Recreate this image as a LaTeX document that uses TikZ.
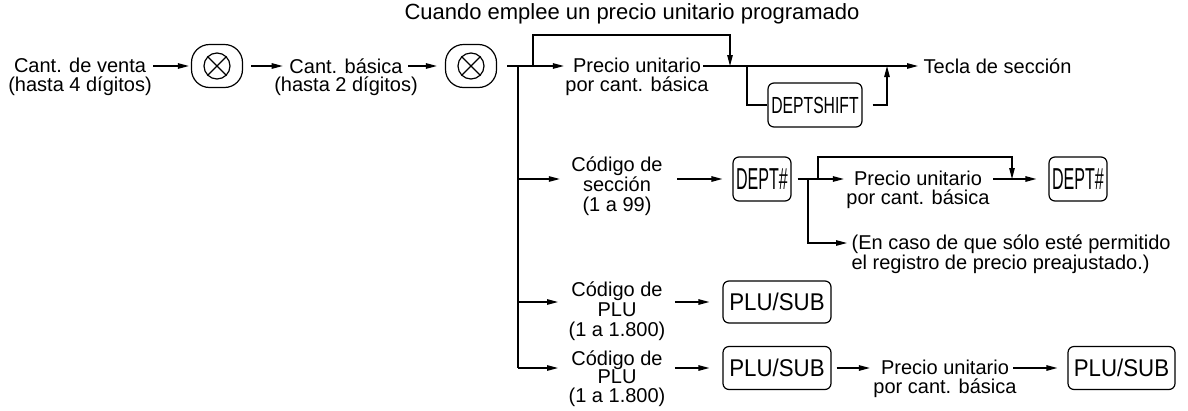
\documentclass[tikz,border=0pt]{standalone}
\usepackage{fontspec}
\setmainfont{Liberation Sans}
\usepackage{graphicx}
\usetikzlibrary{arrows.meta,calc}
\newcommand\keytext[3]{{\fontsize{#1}{#1}\selectfont\scalebox{#2}[1]{#3}}}
\begin{document}
\begin{tikzpicture}[x=1pt,y=-1pt, line width=1.2pt,
  txt/.style={inner sep=0pt, align=center, font=\fontsize{20}{18.5}\selectfont},
  txtw/.style={inner sep=0pt, align=center, font=\fontsize{20}{20}\selectfont},
  keybox/.style={draw, rounded corners=6pt, inner sep=0pt},
  xbox/.style={draw, rounded corners=18pt, minimum width=51pt, minimum height=43pt, inner sep=0pt},
  xcirc/.style={draw, circle, minimum size=26pt, inner sep=0pt},
  arr/.style={-{Triangle[length=11pt,width=5.5pt]}}]
\useasboundingbox (0,0) rectangle (1188,410);

% row 1
\node[txt] (t1) at (80,77) {Cant. de venta\\(hasta 4 dígitos)};
\node[xbox] (x1) at (217,66) {};
\node[xcirc] (c1) at (x1.center) {};
\draw (c1.north west) -- (c1.south east) (c1.north east) -- (c1.south west);
\node[txt] (t2) at (346,77) {Cant. básica\\(hasta 2 dígitos)};
\node[xbox] (x2) at (471,66) {};
\node[xcirc] (c2) at (x2.center) {};
\draw (c2.north west) -- (c2.south east) (c2.north east) -- (c2.south west);
\node[txt, font=\fontsize{22}{22}\selectfont] (lab) at (632,14) {Cuando emplee un precio unitario programado};
\node[txt] (p1) at (637,77) {Precio unitario\\por cant. básica};
\node[txt, anchor=west] (tec) at (923,66) {Tecla de sección};
\node[keybox, minimum width=94pt, minimum height=44pt] (ds) at (815,105) {\keytext{23.3}{0.674}{DEPTSHIFT}};

% row 2
\node[txtw] (c2t) at (617,186.5) {Código de\\sección\\(1 a 99)};
\node[keybox, minimum width=58pt, minimum height=44pt] (d1) at (762,179) {\keytext{30.3}{0.53}{DEPT\#}};
\node[txt] (p2) at (918,190) {Precio unitario\\por cant. básica};
\node[keybox, minimum width=58pt, minimum height=44pt] (d2) at (1078,179) {\keytext{30.3}{0.53}{DEPT\#}};
\node[txt, align=left, anchor=west] (note) at (851,254) {(En caso de que sólo esté permitido\\el registro de precio preajustado.)};

% row 3
\node[txtw] (c3) at (617,311.5) {Código de\\PLU\\(1 a 1.800)};
\node[keybox, minimum width=108pt, minimum height=42pt] (k1) at (777,302) {\keytext{24.2}{0.92}{PLU/SUB}};

% row 4
\node[txt] (c4) at (617,378.5) {Código de\\PLU\\(1 a 1.800)};
\node[keybox, minimum width=108pt, minimum height=43pt] (k2) at (777,368) {\keytext{24.2}{0.92}{PLU/SUB}};
\node[txt] (p3) at (945,379) {Precio unitario\\por cant. básica};
\node[keybox, minimum width=107pt, minimum height=43pt] (k3) at (1121.5,368) {\keytext{24.2}{0.92}{PLU/SUB}};

% junctions
\coordinate (j0) at (518,66);
\coordinate (jb) at (533,66);
\coordinate (jc) at (730,66);
\coordinate (jd) at (747,66);
\coordinate (ju) at (887,66);
\coordinate (j3) at (808,179);
\coordinate (j4) at (818,179);
\coordinate (j5) at (1012,179);
\coordinate (jn) at (808,243);

% row 1 connectors
\draw[arr] ($(t1.east|-x1.west)+(1,0)$) -- ($(x1.west)+(-2,0)$);
\draw[arr] ($(x1.east)+(8,0)$) -- ($(t2.west|-x1.east)+(9,0)$);
\draw[arr] ($(t2.east|-x2.west)+(-10,0)$) -- ($(x2.west)+(-8,0)$);
\draw ($(x2.east)+(10,0)$) -- (j0);
\draw[arr] (j0) -- ($(p1.west|-j0)+(-1,0)$);
\draw[arr] (jb) -- ++(0,-31) -| (jc);
\draw[arr] ($(p1.east|-j0)+(-6,0)$) -- ($(tec.west)+(-5,0)$);
\draw (jd) |- (ds.west);
\draw[arr] ($(ds.east)+(10,0)$) -| (ju);

% trunk
\draw (j0) -- (j0|-k2);

% row 2 connectors
\draw[arr] (j0|-d1) -- ($(c2t.west|-d1)+(-11,0)$);
\draw[arr] ($(c2t.east|-d1)+(14,0)$) -- ($(d1.west)+(-10,0)$);
\draw ($(d1.east)+(6,0)$) -- (j4);
\draw[arr] (j4) -- ($(p2.west|-d1)+(-2,0)$);
\draw[arr] (j4) -- ++(0,-22) -| (j5);
\draw[arr] ($(p2.east|-d1)+(3,0)$) -- ($(d2.west)+(-12,0)$);
\draw[arr] (j3) -- (jn) -- ($(note.west|-jn)+(-4,0)$);

% row 3 connectors
\draw[arr] (j0|-k1) -- ($(c3.west|-k1)+(-10,0)$);
\draw[arr] ($(c3.east|-k1)+(9,0)$) -- ($(k1.west)+(-13,0)$);

% row 4 connectors
\draw[arr] (j0|-k2) -- ($(c4.west|-k2)+(-10,0)$);
\draw[arr] ($(c4.east|-k2)+(9,0)$) -- ($(k2.west)+(-13,0)$);
\draw[arr] ($(k2.east)+(5,0)$) -- ($(p3.west|-k2)+(-3,0)$);
\draw[arr] ($(p3.east|-k2)+(-4,0)$) -- ($(k3.west)+(-10,0)$);
\end{tikzpicture}
\end{document}
